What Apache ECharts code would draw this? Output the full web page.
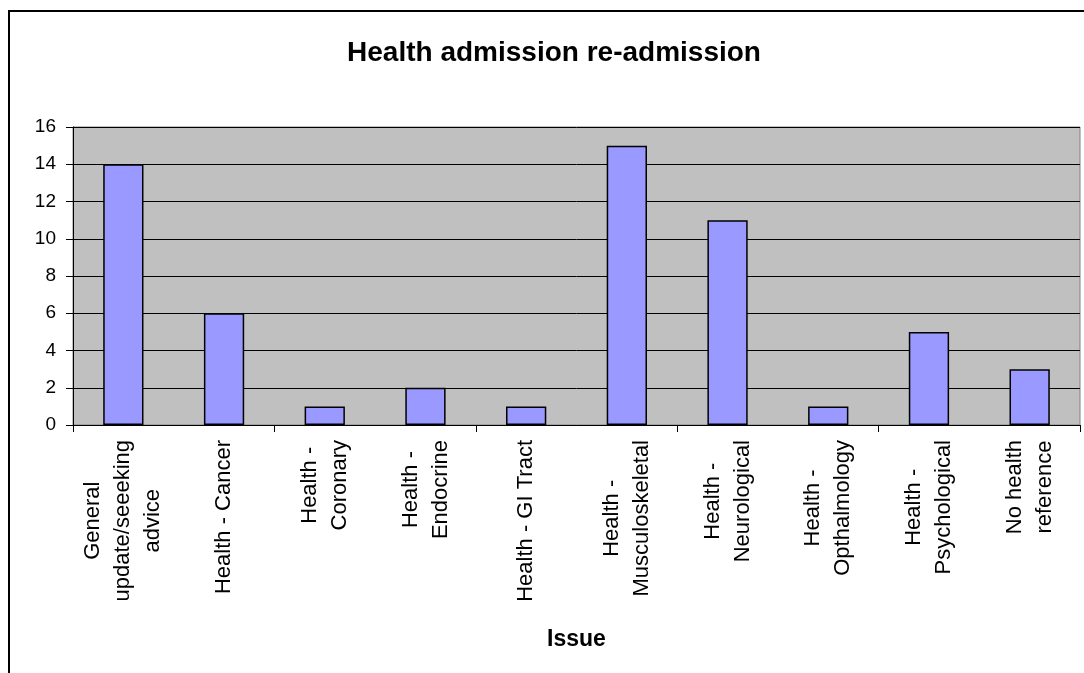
<!DOCTYPE html>
<html>
<head>
<meta charset="utf-8">
<script src="https://cdn.jsdelivr.net/npm/echarts@6/dist/echarts.min.js"></script>
<style>
html,body{margin:0;padding:0;background:#fff;}
#chart{width:1084px;height:673px;}
</style>
</head>
<body>
<div id="chart"></div>
<script>
var titleText = "Health admission re-admission";
var xAxisName = "Issue";
var categories = [
  "General\nupdate/seeeking\nadvice",
  "Health - Cancer",
  "Health -\nCoronary",
  "Health -\nEndocrine",
  "Health - GI Tract",
  "Health -\nMusculoskeletal",
  "Health -\nNeurological",
  "Health -\nOpthalmology",
  "Health -\nPsychological",
  "No health\nreference"
];
var values = [14, 6, 1, 2, 1, 15, 11, 1, 5, 3];
var yTicks = [0, 2, 4, 6, 8, 10, 12, 14, 16];

var FONT = '"Liberation Sans", Arial, sans-serif';
var LABEL_SIZE = 22;
var LABEL_FONT = LABEL_SIZE + 'px ' + FONT;
var LINE_H = 30;
var LABEL_MARGIN = 15;

var chart = echarts.init(document.getElementById('chart'), null, {renderer: 'canvas'});
var baseGraphic = [
  {id: 'frame', type: 'rect', shape: {x: 9, y: 11, width: 1200, height: 800},
   style: {fill: 'none', stroke: '#000', lineWidth: 2}, z: 100},
  {id: 'title', type: 'text', x: 554, y: 53,
   style: {text: titleText, font: 'bold 28px ' + FONT, fill: '#000',
           textAlign: 'center', textVerticalAlign: 'middle'}, z: 100}
];
chart.setOption({
  animation: false,
  backgroundColor: '#ffffff',
  graphic: baseGraphic,
  grid: {
    left: 73, right: 4, top: 127, bottom: 248,
    show: true, backgroundColor: '#C0C0C0', borderColor: '#808080', borderWidth: 1
  },
  xAxis: {
    type: 'category',
    data: categories,
    name: xAxisName,
    nameLocation: 'middle',
    nameGap: 203,
    nameTextStyle: {fontFamily: FONT, fontWeight: 'bold', fontSize: 23, color: '#000'},
    axisLine: {lineStyle: {color: '#000', width: 1}},
    axisTick: {show: true, length: 7, lineStyle: {color: '#000'}},
    axisLabel: {show: false},
    splitLine: {show: false}
  },
  yAxis: {
    type: 'value',
    min: 0, max: yTicks[yTicks.length - 1], interval: 2,
    axisLine: {show: true, lineStyle: {color: '#000', width: 1}},
    axisTick: {show: true, length: 7, lineStyle: {color: '#000'}},
    axisLabel: {margin: 17, color: '#000', fontFamily: FONT, fontSize: 19},
    splitLine: {show: true, lineStyle: {color: '#000', width: 1}}
  },
  series: [{
    type: 'bar',
    data: values,
    barWidth: '40%',
    itemStyle: {color: '#9999FF', borderColor: '#000', borderWidth: 1.5}
  }]
});

// Category labels: rotated, lines centred on each other, block end at the axis
var ctx = document.createElement('canvas').getContext('2d');
ctx.font = LABEL_FONT;
var y0 = chart.convertToPixel({yAxisIndex: 0}, 0);
var labelGraphic = [];
categories.forEach(function (cat, i) {
  var lines = cat.split('\n');
  var W = Math.max.apply(null, lines.map(function (l) { return ctx.measureText(l).width; }));
  var cx = chart.convertToPixel({xAxisIndex: 0}, i);
  lines.forEach(function (l, j) {
    labelGraphic.push({
      id: 'lab' + i + '_' + j, type: 'text',
      x: cx + (j - (lines.length - 1) / 2) * LINE_H,
      y: y0 + LABEL_MARGIN + W / 2,
      rotation: Math.PI / 2,
      style: {text: l, font: LABEL_FONT, fill: '#000', textAlign: 'center', textVerticalAlign: 'middle'},
      z: 50
    });
  });
});
chart.setOption({graphic: baseGraphic.concat(labelGraphic)});
</script>
</body>
</html>
